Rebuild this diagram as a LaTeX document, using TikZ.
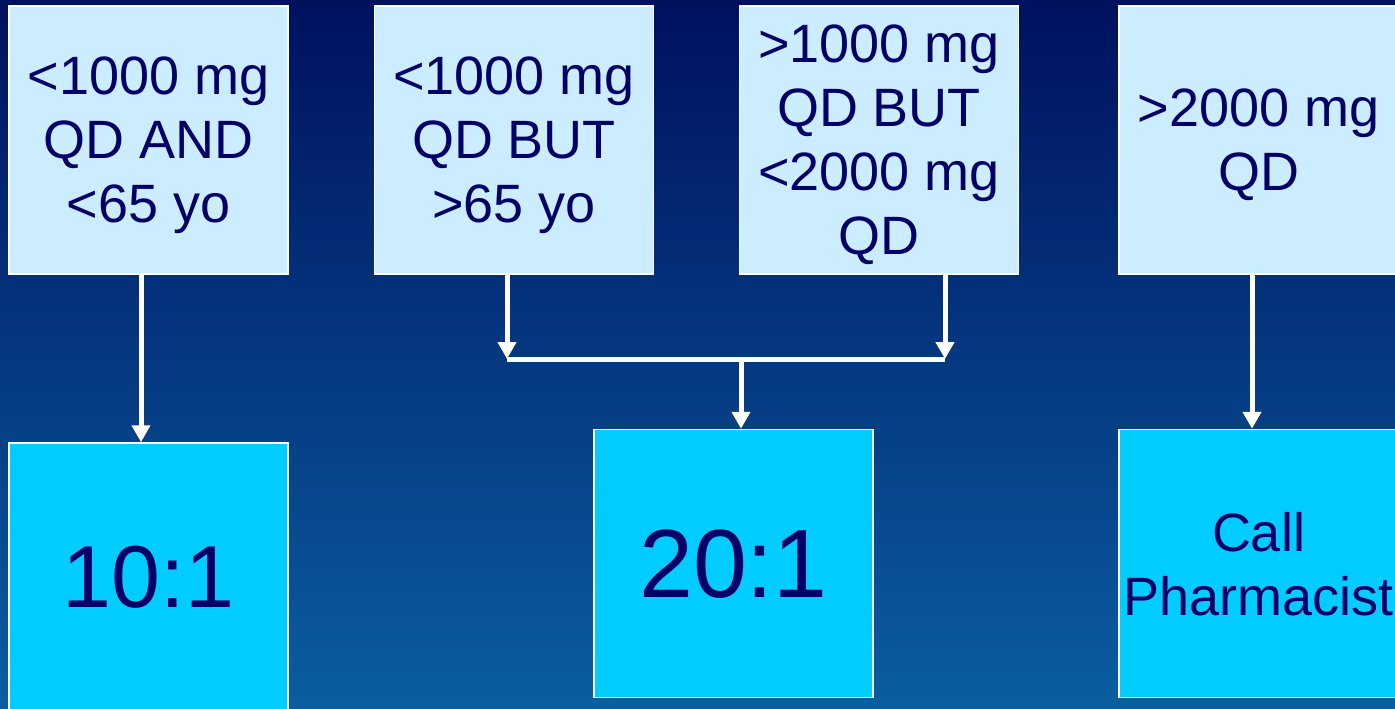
\documentclass[tikz,border=0pt]{standalone}
\usepackage{fontspec}
\setmainfont{Liberation Sans}
\usetikzlibrary{arrows.meta,calc}
\definecolor{bgtop}{RGB}{0,17,94}
\definecolor{bgbot}{RGB}{10,94,160}
\definecolor{topfill}{RGB}{204,236,255}
\definecolor{botfill}{RGB}{0,204,255}
\definecolor{txt}{RGB}{0,0,102}
\begin{document}
\begin{tikzpicture}[x=1pt,y=-1pt,
  basebox/.style={draw=white, line width=1.5pt, minimum width=279pt,
    minimum height=268pt, inner sep=0pt, text=txt, align=center, text depth=0pt},
  condbox/.style={basebox, fill=topfill, font=\fontsize{54}{64}\selectfont},
  ratiobox/.style={basebox, fill=botfill, font=\fontsize{54}{64}\selectfont},
  arr/.style={draw=white, line width=5pt, -{Triangle[width=18pt,length=17pt]}},
  link/.style={draw=white, line width=5pt}]
\useasboundingbox (0,0) rectangle (1395,709);
\clip (0,0) rectangle (1395,709);
\shade[top color=bgtop, bottom color=bgbot] (0,0) rectangle (1395,709);

\node[condbox] (A) at (148.5,140) {<1000 mg\\QD AND\\<65 yo};
\node[condbox] (B) at (514,140) {<1000 mg\\QD BUT\\>65 yo};
\node[condbox] (C) at (879,140) {>1000 mg\\QD BUT\\<2000 mg\\QD};
\node[condbox] (D) at (1258.5,140) {>2000 mg\\QD};

\node[ratiobox, font=\fontsize{88}{100}\selectfont] (E) at (148.5,577) {10:1};
\node[ratiobox, font=\fontsize{97}{110}\selectfont] (F) at (733.5,563.5) {20:1};
\node[ratiobox] (G) at (1258.5,563.5) {Call\\Pharmacist};

\coordinate (jb) at (507,359);
\coordinate (jc) at (945,359);
\coordinate (jm) at (741,359);

\draw[arr] ([xshift=-7.5pt]A.south) -- ([xshift=-7.5pt]E.north);
\draw[arr] ([xshift=-7pt]B.south) -- (jb);
\draw[arr] ([xshift=66pt]C.south) -- (jc);
\draw[link] (jb) -- (jc);
\draw[arr] (jm) -- ([xshift=7.5pt]F.north);
\draw[arr] ([xshift=-6.5pt]D.south) -- ([xshift=-6.5pt]G.north);
\end{tikzpicture}
\end{document}
